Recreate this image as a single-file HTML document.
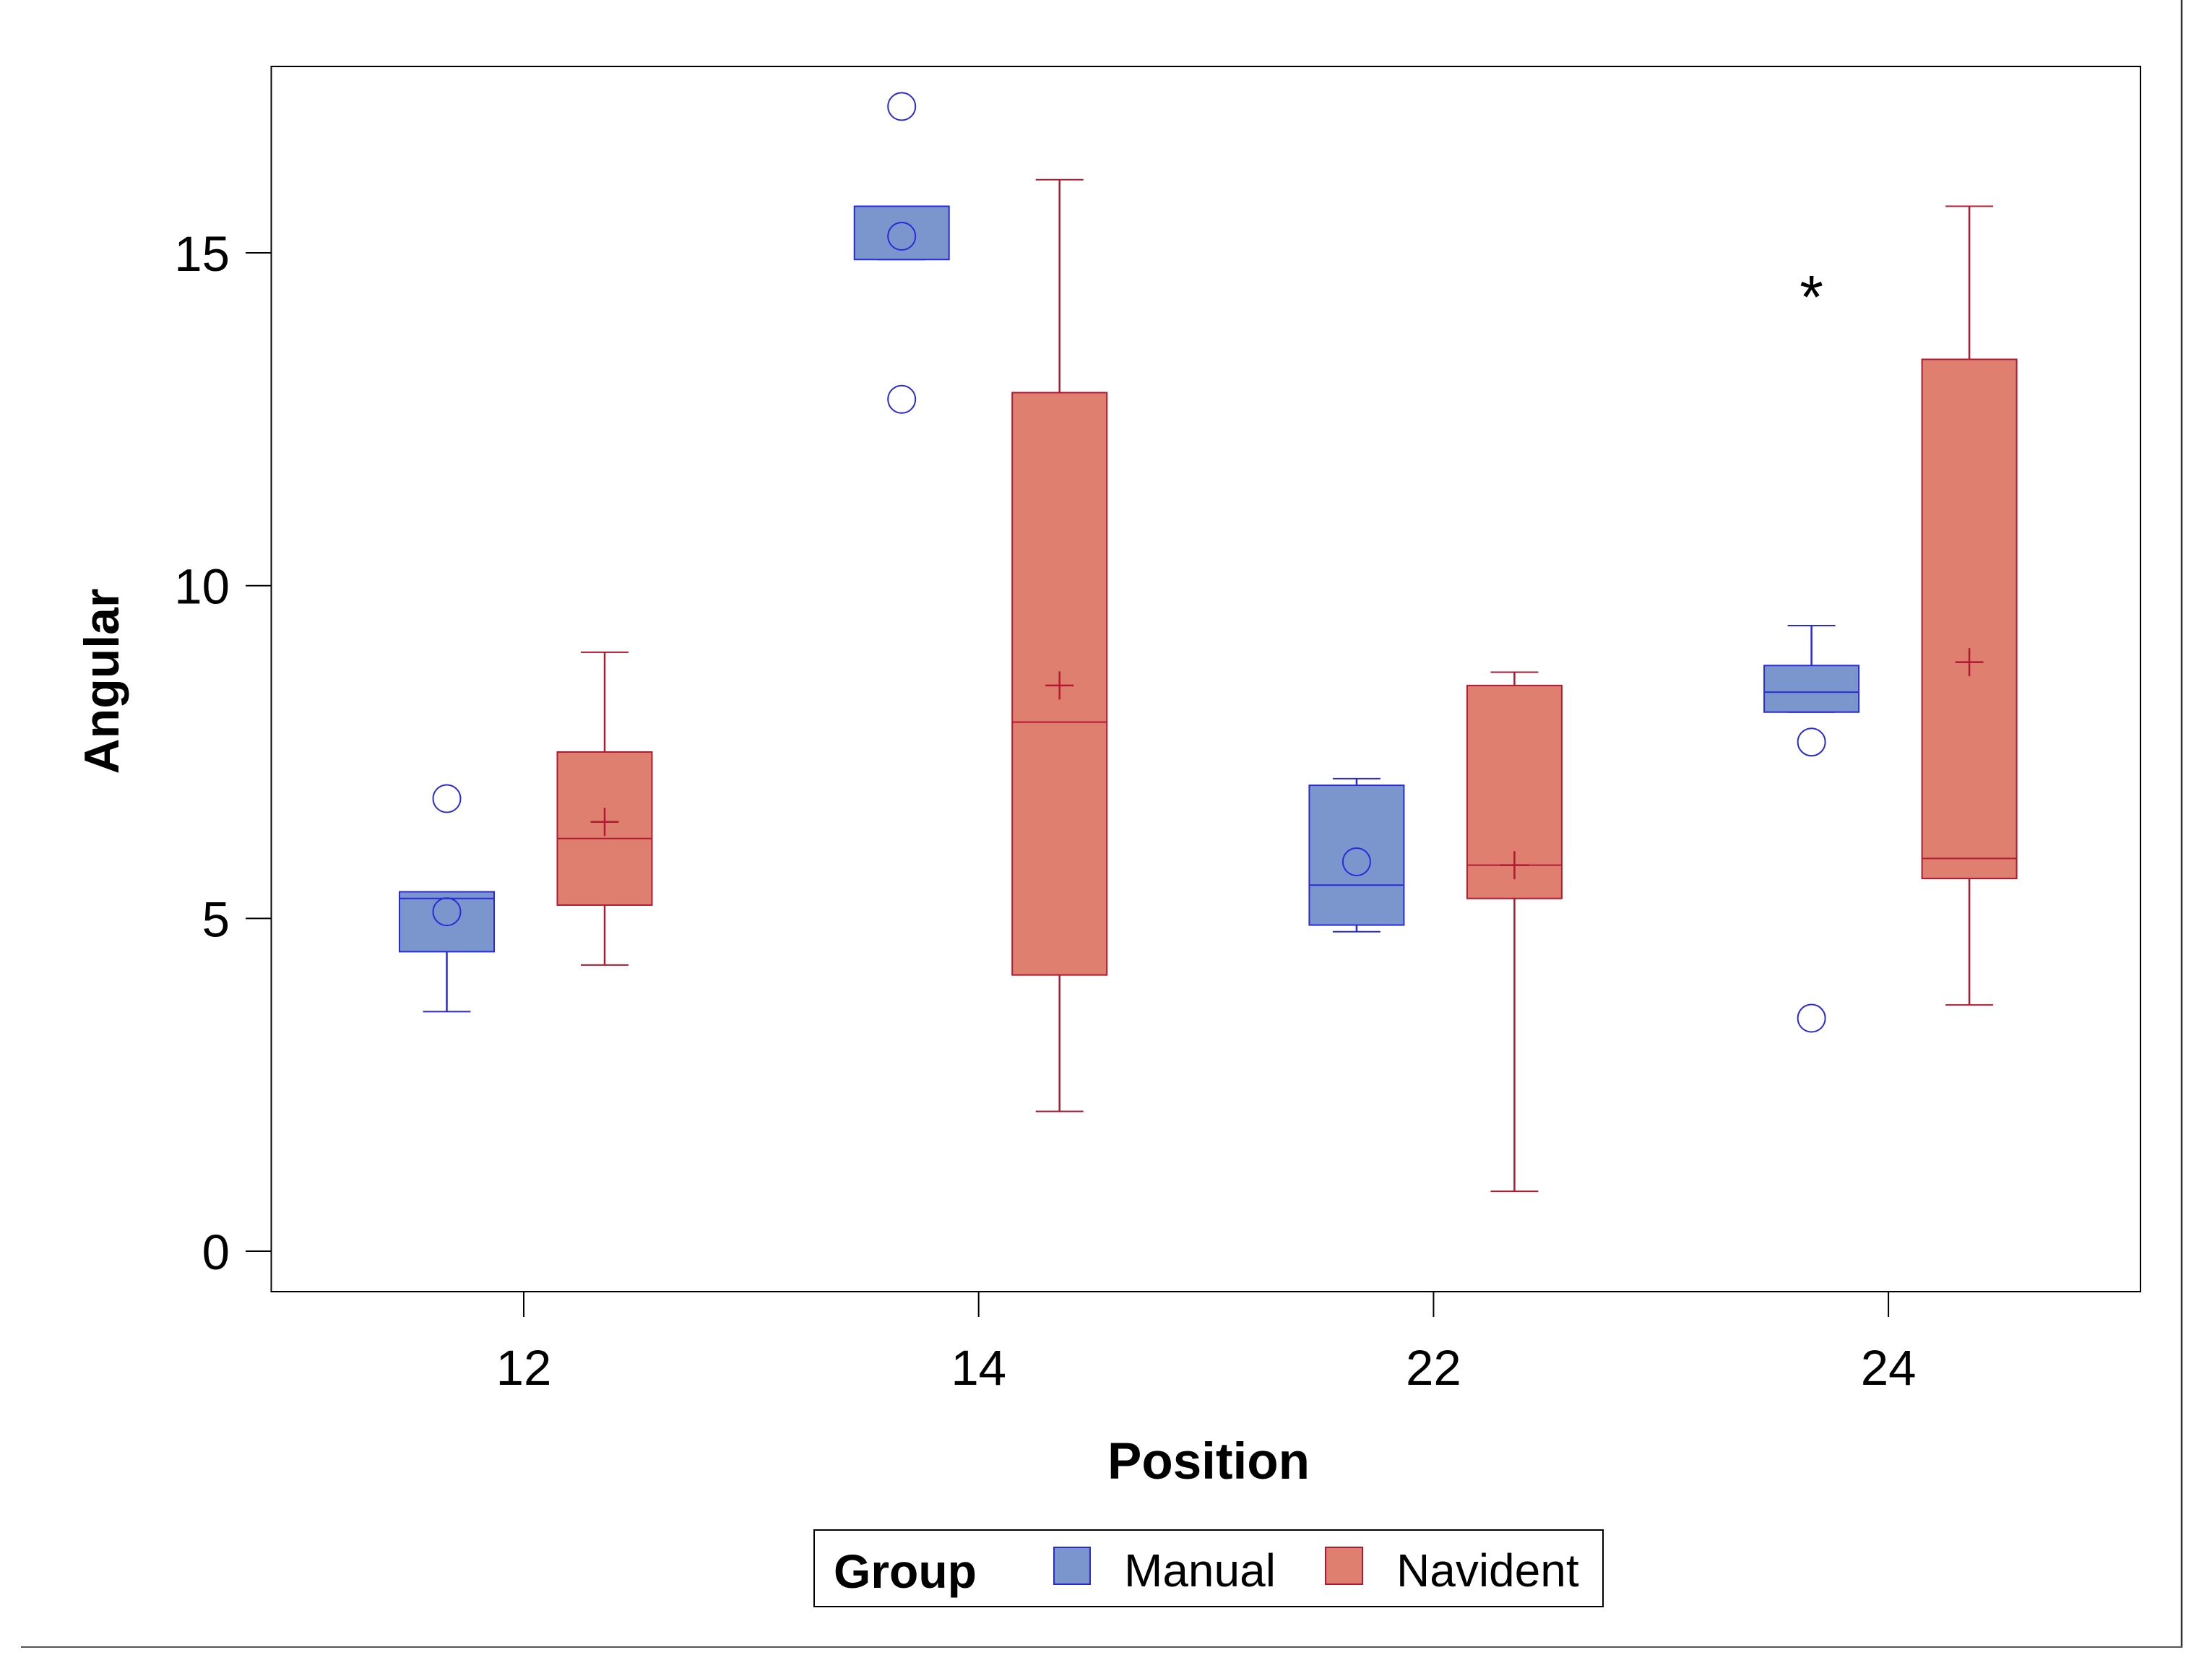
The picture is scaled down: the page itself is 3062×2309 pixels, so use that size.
<!DOCTYPE html>
<html><head><meta charset="utf-8"><style>
html,body{margin:0;padding:0;background:#fff}
svg{display:block}
text{font-family:"Liberation Sans",Arial,sans-serif;fill:#000}
</style></head><body>
<svg id="chart" width="3062" height="2309" viewBox="0 0 3062 2309" xmlns="http://www.w3.org/2000/svg">
<line x1="3020" y1="0" x2="3020" y2="2281" stroke="#333" stroke-width="2.5"/>
<line x1="29" y1="2280" x2="3021" y2="2280" stroke="#555" stroke-width="2"/>
<rect x="375.5" y="92" width="2587.5" height="1696" fill="none" stroke="#000" stroke-width="2"/>
<g id="yaxis"></g>
<g id="xaxis"></g>
<g id="marks"></g>
<text x="164" y="943" font-size="68" font-weight="bold" text-anchor="middle" transform="rotate(-90 164 943)">Angular</text>
<text x="1673" y="2047" font-size="71" font-weight="bold" text-anchor="middle">Position</text>
<g>
<rect x="1127" y="2118" width="1092" height="106" fill="#fff" stroke="#000" stroke-width="2"/>
<text x="1154" y="2198" font-size="66" font-weight="bold">Group</text>
<rect x="1459" y="2142" width="50" height="51" fill="#7b96cd" stroke="#2a2ad8" stroke-width="2"/>
<text x="1556" y="2196" font-size="64">Manual</text>
<rect x="1835" y="2142" width="51" height="51" fill="#df7f6f" stroke="#b01a30" stroke-width="2"/>
<text x="1933" y="2196" font-size="64">Navident</text>
</g>
</svg>
<script>
const categories = ["12","14","22","24"];
const yTicks = [0,5,10,15];
const manualLow = [3.6, 14.9, 4.8, 8.1];
const manualQ1 = [4.5, 14.9, 4.9, 8.1];
const manualMed = [5.3, 15.7, 5.5, 8.4];
const manualQ3 = [5.4, 15.7, 7.0, 8.8];
const manualHigh = [5.4, 15.7, 7.1, 9.4];
const manualMean = [5.1, 15.25, 5.85, 7.65];
const manualOutliers = [[6.8],[17.2,12.8],[],[3.5]];
const manualExtreme = [[],[],[],[14.5]];
const navLow = [4.3, 2.1, 0.9, 3.7];
const navQ1 = [5.2, 4.15, 5.3, 5.6];
const navMed = [6.2, 7.95, 5.8, 5.9];
const navQ3 = [7.5, 12.9, 8.5, 13.4];
const navHigh = [9.0, 16.1, 8.7, 15.7];
const navMean = [6.45, 8.5, 5.8, 8.85];

const NS="http://www.w3.org/2000/svg";
function y(v){return 1732 - v*92.13;}
function x(i){return 725 + i*629.7;}
function mk(tag,attrs,parent){const e=document.createElementNS(NS,tag);for(const k in attrs)e.setAttribute(k,attrs[k]);parent.appendChild(e);return e;}
const ya=document.getElementById('yaxis'), xa=document.getElementById('xaxis'), m=document.getElementById('marks');
yTicks.forEach(t=>{
  const l=mk('line',{x1:340,x2:376,y1:y(t),y2:y(t),stroke:'#000','stroke-width':2},ya);
  
  
  const tx=mk('text',{x:318,y:y(t)+25,'font-size':69,'text-anchor':'end'},ya);
  tx.textContent=t;
  
  
});
categories.forEach((c,i)=>{
  const l=mk('line',{x1:x(i),x2:x(i),y1:1788,y2:1823,stroke:'#000','stroke-width':2},xa);
  
  
  const tx=mk('text',{x:x(i),y:1917,'font-size':69,'text-anchor':'middle'},xa);
  tx.textContent=c;
  
  
});
function drawBox(cx,lo,q1,md,q3,hi,mean,fill,stroke,name,circleMean){
  const g=mk('g',{},m);
  
  
  const hw=65.5;
  mk('line',{x1:cx,x2:cx,y1:y(hi),y2:y(q3),stroke:stroke,'stroke-width':2.5},g);
  mk('line',{x1:cx,x2:cx,y1:y(q1),y2:y(lo),stroke:stroke,'stroke-width':2.5},g);
  mk('line',{x1:cx-33,x2:cx+33,y1:y(hi),y2:y(hi),stroke:stroke,'stroke-width':2},g);
  mk('line',{x1:cx-33,x2:cx+33,y1:y(lo),y2:y(lo),stroke:stroke,'stroke-width':2},g);
  mk('rect',{x:cx-hw,y:y(q3),width:2*hw,height:Math.max(1,y(q1)-y(q3)),fill:fill,stroke:stroke,'stroke-width':2},g);
  mk('line',{x1:cx-hw,x2:cx+hw,y1:y(md),y2:y(md),stroke:stroke,'stroke-width':2},g);
  if(circleMean){mk('circle',{cx:cx,cy:y(mean),r:19,fill:'none',stroke:stroke,'stroke-width':2},g);}
  else{mk('line',{x1:cx-19.5,x2:cx+19.5,y1:y(mean),y2:y(mean),stroke:stroke,'stroke-width':2.5},g);mk('line',{x1:cx,x2:cx,y1:y(mean)-19.5,y2:y(mean)+19.5,stroke:stroke,'stroke-width':2.5},g);}
  return g;
}
categories.forEach((c,i)=>{
  const cm=x(i)-106.5, cn=x(i)+112;
  const g=drawBox(cm,manualLow[i],manualQ1[i],manualMed[i],manualQ3[i],manualHigh[i],manualMean[i],'#7b96cd','#2a2ad8','box-manual-'+c,true);
  manualOutliers[i].forEach(v=>{
    const o=mk('circle',{cx:cm,cy:y(v),r:19,fill:'none',stroke:'#2a2ad8','stroke-width':2},g);
    
    
  });
  manualExtreme[i].forEach(v=>{
    const s=mk('text',{x:cm,y:y(v)+44,'font-size':84,'text-anchor':'middle'},g);
    s.textContent='*';
    
    
  });
  drawBox(cn,navLow[i],navQ1[i],navMed[i],navQ3[i],navHigh[i],navMean[i],'#df7f6f','#b01a30','box-navident-'+c,false);
});
</script>
</body></html>
